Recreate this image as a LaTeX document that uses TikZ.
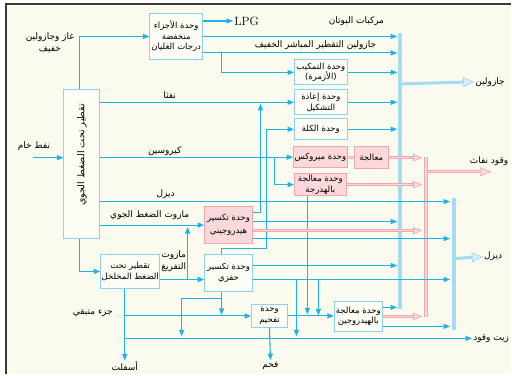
\documentclass[tikz,border=0pt]{standalone}
\usepackage{fontspec}
\newfontfamily\arabicfont[Script=Arabic]{DejaVu Sans}
\TeXXeTstate=1
\usetikzlibrary{arrows.meta, calc}
\definecolor{flowblue}{HTML}{1FB2E6}
\definecolor{barblue}{HTML}{A5DCF2}
\definecolor{boxblue}{HTML}{8DD3EF}
\definecolor{boxfill}{HTML}{FDFDF6}
\definecolor{pinkfill}{HTML}{FBD8DB}
\definecolor{pinkdraw}{HTML}{F2A6AE}
\definecolor{bgcream}{HTML}{FBFAEE}
\definecolor{framegray}{HTML}{3A3A3A}
\newcommand{\artext}[1]{\beginR#1\endR}
\newcommand{\arsmall}{\arabicfont\fontsize{8.5}{10.5}\selectfont}
\newcommand{\arlabel}{\arabicfont\fontsize{9}{12}\selectfont}

\begin{document}
\begin{tikzpicture}[x=1pt, y=-1pt,
    unit/.style={draw=boxblue, fill=boxfill, line width=0.8pt, align=center, inner sep=1pt, font=\arsmall},
    punit/.style={unit, draw=pinkdraw, fill=pinkfill},
    lbl/.style={font=\arlabel, align=center, inner sep=1pt},
    flow/.style={draw=flowblue, line width=1.1pt, -{Triangle[length=6.5pt, width=5pt]}},
    jet/.style={draw=pinkdraw, double=pinkfill, double distance=1.4pt, line width=0.6pt,
      -{Triangle[open, fill=pinkfill, length=9pt, width=7pt, line width=0.6pt]}},
    pinkpipe/.style={draw=pinkdraw, double=pinkfill, double distance=1.4pt, line width=0.6pt},
    bar/.style={draw=barblue, line width=4pt},
    pbar/.style={draw=pinkdraw, double=pinkfill, double distance=2.2pt, line width=0.6pt},
    outflow/.style={draw=barblue, line width=3pt,
      -{Triangle[open, fill=barblue!40, length=11pt, width=10pt, line width=0.8pt]}},
    jetflow/.style={draw=pinkdraw, double=pinkfill, double distance=1.6pt, line width=0.6pt,
      -{Triangle[open, fill=pinkfill, length=11pt, width=9pt, line width=0.6pt]}}]
    \fill[white] (0,0) rectangle (512,375);
    \fill[bgcream] (6,4) rectangle (512,375);
    \draw[framegray, line width=2pt] (6,375) -- (6,4) -- (512,4);
    \useasboundingbox (0,0) rectangle (512,375);

    % units
    \node[unit, minimum width=36, minimum height=149] (atm) at (82,164.5) {};
    \node[font=\arabicfont\fontsize{9.5}{11}\selectfont, rotate=90] (atmtext) at (82,155) {\artext{تقطير تحت الضغط الجوي}};
    \node[unit, minimum width=53, minimum height=47] (lowbp) at (176.5,36.5) {\artext{وحدة الأجزاء}\\\artext{منخفضة}\\\artext{درجات الغليان}};
    \node[unit, minimum width=53, minimum height=25] (alk) at (321.5,72.5) {\artext{وحدة التمكيب}\\\artext{(الأزمرة)}};
    \node[unit, minimum width=53, minimum height=25] (reform) at (321.5,102.5) {\artext{وحدة إعادة}\\\artext{التشكيل}};
    \node[unit, minimum width=53, minimum height=21] (kila) at (321.5,129.5) {\artext{وحدة الكلة}};
    \node[punit, minimum width=52, minimum height=21] (merox) at (321,157.5) {\artext{وحدة ميروكس}};
    \node[punit, minimum width=34, minimum height=22] (treat) at (372,158) {\artext{معالجة}};
    \node[punit, minimum width=52, minimum height=22] (hdt) at (321,185) {\artext{وحدة معالجة}\\\artext{بالهدرجة}};
    \node[punit, minimum width=48, minimum height=37] (hcr) at (229,225.5) {\artext{وحدة تكسير}\\[3pt]\artext{هيدروجيني}};
    \node[unit, minimum width=48, minimum height=37] (fcc) at (229,273.5) {\artext{وحدة تكسير}\\\artext{حفزي}};
    \node[unit, minimum width=49, minimum height=34] (vac) at (130.5,272) {\artext{تقطير تحت}\\\artext{الضغط المخلخل}};
    \node[unit, minimum width=36, minimum height=23] (coke) at (270,316.5) {\artext{وحدة}\\\artext{تفحيم}};
    \node[unit, minimum width=48, minimum height=30] (hdt2) at (359,317) {\artext{وحدة معالجة}\\\artext{بالهيدروجين}};

    % stream labels
    \node[lbl] (lgas) at (50,43) {\artext{غاز وجازولين}\\\artext{خفيف}};
    \node[font=\fontsize{12}{14}\selectfont, inner sep=1pt] (lpg) at (247,21) {LPG};
    \node[lbl, anchor=east] (butane) at (386,21) {\artext{مركبات البوتان}};
    \node[lbl] (lsrtext) at (316,45) {\artext{جازولين التقطير المباشر الخفيف}};
    \node[lbl] (naph) at (170,95) {\artext{نفثا}};
    \node[lbl] (kero) at (165,151) {\artext{كيروسين}};
    \node[lbl] (dsl) at (166,195) {\artext{ديزل}};
    \node[lbl] (atres) at (150,216) {\artext{مازوت الضغط الجوي}};
    \node[lbl] (vacres) at (174,262) {\artext{مازوت}\\\artext{التفريغ}};
    \node[lbl] (crude) at (34,146) {\artext{نفط خام}};
    \node[lbl] (resid) at (93,314) {\artext{جزء متبقي}};
    \node[lbl] (asph) at (125,367) {\artext{أسفلت}};
    \node[lbl] (coal) at (271,366) {\artext{فحم}};
    \node[lbl] (gasout) at (491,82) {\artext{جازولين}};
    \node[lbl] (jetout) at (490,161) {\artext{وقود نفاث}};
    \node[lbl] (dslout) at (494,257) {\artext{ديزل}};
    \node[lbl, anchor=west] (fuelout) at (473,339) {\artext{زيت وقود}};

    \coordinate (gin) at (398,0);
    \coordinate (jin) at (423,0);
    \coordinate (din) at (451,0);
    \coordinate (crudein) at (33,158);
    \coordinate (lsr) at (203,53);
    \coordinate (jetend) at (492,172);

    % collectors
    \draw[bar] (401,33) -- (401,310);
    \draw[pbar] (427,157) -- (427,318);
    \draw[bar] (455,198) -- (455,331);
    \draw[outflow] (403,84) -- (gasout.west);
    \draw[jetflow] (429,172) -- (jetend);
    \draw[outflow] (457,259) -- (dslout.west);

    % streams
    \draw[flow] (crudein) -- (crudein -| atm.west);
    \draw[flow] (atm.north -| 80,0) |- (lowbp.west);
    \draw[flow] (lowbp.east |- lpg) -- (lpg.west);
    \draw[flow] (lowbp.east) -- (lowbp.east -| gin);
    \draw[flow] (lsr) -- (lsr -| gin);
    \draw[flow] (lsr -| 222,0) |- (alk.west);
    \draw[flow] (alk.east) -- (alk.east -| gin);
    \draw[flow] (atm.east |- reform.west) -- (reform.west);
    \draw[flow] (reform.east) -- (reform.east -| gin);
    \draw[flow] (hcr.east |- 0,213) -| (261,104);
    \draw[flow] (kila.east) -- (kila.east -| gin);
    \draw[flow] (fcc.north -| 222,0) |- (267,249) |- (kila.west);
    \draw[flow] (atm.east |- merox.west) -- (merox.west);
    \draw[flow] (merox.west -| 275,0) |- (hdt.west);
    \draw[pinkpipe] (merox.east) -- (treat.west);
    \draw[jet] (treat.east) -- (treat.east -| jin);
    \draw[jet] (hdt.east) -- (hdt.east -| jin);
    \draw[flow] (hdt.south -| 308,0) -- (308,315);
    \draw[flow] (atm.east |- 0,202) -- (din |- 0,202);
    \draw[flow] (atm.east |- hcr.west) -- (hcr.west);
    \draw[flow] (atm.south -| 80,0) |- (vac.west);
    \draw[flow] (vac.east |- 0,280) -- (fcc.west |- 0,280);
    \draw[flow] (188,280) -- (188,227.5);
    \draw[flow] (hcr.east |- 0,222) -- (gin |- 0,222);
    \draw[jet] (hcr.east |- 0,231) -- (jin |- 0,231);
    \draw[flow] (hcr.east |- 0,239) -- (din |- 0,239);
    \draw[flow] (fcc.east |- 0,266) -- (gin |- 0,266);
    \draw[flow] (fcc.east |- 0,280) -- (din |- 0,280);
    \draw[flow] (297,280) -- (297,337);
    \draw[flow] (319,280) -- (319,316);
    \draw[flow] (fcc.south -| 222,0) -- (222,315.5);
    \draw[flow] (222,299) -| (182,337);
    \draw[flow] (vac.south -| 125,0) -- (asph.north);
    \draw[flow] (125,316.5) -- (coke.west);
    \draw[flow] (125,339) -- (fuelout.west);
    \draw[flow] (coke.south) -- (coal.north);
    \draw[flow] (coke.east) -- (coke.east -| hdt2.west);
    \draw[flow] (hdt2.east |- 0,308) -- (gin |- 0,308);
    \draw[jet] (hdt2.east |- 0,317) -- (jin |- 0,317);
    \draw[flow] (hdt2.east |- 0,327) -- (din |- 0,327);
\end{tikzpicture}
\end{document}
